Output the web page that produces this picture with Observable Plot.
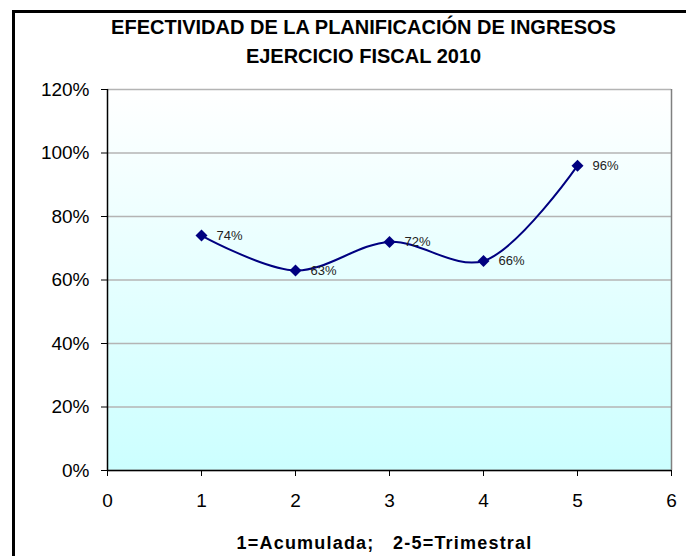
<!DOCTYPE html>
<html>
<head>
<meta charset="utf-8">
<script src="https://cdn.jsdelivr.net/npm/d3@7"></script>
<script src="https://cdn.jsdelivr.net/npm/@observablehq/plot@0.6"></script>
<style>
  html, body { margin: 0; padding: 0; background: #fff; overflow: hidden; }
  #wrap { position: relative; width: 686px; height: 556px; overflow: hidden; font-family: "Liberation Sans", Arial, sans-serif; }
  #border { position: absolute; left: 12px; top: 10px; width: 720px; height: 600px; border: 3px solid #000; box-sizing: border-box; }
  #chart { position: absolute; left: 0; top: 0; }
</style>
</head>
<body>
<div id="wrap"><div id="border"></div><div id="chart"></div></div>
<script>
const titleLines = ["EFECTIVIDAD DE LA PLANIFICACIÓN DE INGRESOS", "EJERCICIO FISCAL 2010"];
const xLabel = "1=Acumulada;   2-5=Trimestral";
const periods = [1, 2, 3, 4, 5];
const efectividad = [0.74, 0.63, 0.72, 0.66, 0.96];
const labels = ["74%", "63%", "72%", "66%", "96%"];
const xTicks = [0, 1, 2, 3, 4, 5, 6];
const yTicks = [0, 0.2, 0.4, 0.6, 0.8, 1.0, 1.2];

const data = periods.map((p, i) => ({x: p, y: efectividad[i], label: labels[i]}));
const font = "Liberation Sans, Arial, sans-serif";

const plot = Plot.plot({
  width: 686,
  height: 556,
  marginLeft: 107,
  marginRight: 15,
  marginTop: 89,
  marginBottom: 86,
  style: {fontFamily: font, background: "transparent", overflow: "visible"},
  x: {domain: [0, 6], ticks: xTicks},
  y: {domain: [0, 1.2], ticks: yTicks},
  marks: [
    Plot.frame({fill: "url(#bggrad)", stroke: "none"}),
    Plot.gridY(yTicks, {stroke: "#b4b4b4", strokeOpacity: 1, strokeWidth: 1.5}),
    Plot.ruleX([6], {stroke: "#808080", strokeWidth: 1.5}),
    Plot.ruleX([0], {stroke: "#000", strokeWidth: 1.5}),
    Plot.ruleY([0], {stroke: "#000", strokeWidth: 1.5}),
    Plot.axisY({ticks: yTicks, tickFormat: d => Math.round(d * 100) + "%", tickSize: 6, tickPadding: 12, fontSize: 19, stroke: "#000", fill: "#000", label: null}),
    Plot.axisX({ticks: xTicks, tickFormat: d => String(d), tickSize: 6, tickPadding: 17, fontSize: 19, stroke: "#000", fill: "#000", label: null}),
    Plot.line(data, {x: "x", y: "y", curve: "catmull-rom", stroke: "#000080", strokeWidth: 2}),
    Plot.dot(data, {x: "x", y: "y", symbol: "diamond2", r: 5.4, fill: "#000080", stroke: "none"}),
    Plot.text(data, {x: "x", y: "y", text: "label", dx: 15, textAnchor: "start", fontSize: 13, fill: "#222"}),
    Plot.text([titleLines[0]], {frameAnchor: "top", dx: 363 - (107 + 564 / 2), dy: -56, text: d => d, fontSize: 20, fontWeight: "bold", fill: "#000", lineAnchor: "bottom"}),
    Plot.text([titleLines[1]], {frameAnchor: "top", dx: 363 - (107 + 564 / 2), dy: -27, text: d => d, fontSize: 20, fontWeight: "bold", fill: "#000", lineAnchor: "bottom"}),
    Plot.text([xLabel], {frameAnchor: "bottom", dx: 384 - (107 + 564 / 2), dy: 78, text: d => d, fontSize: 18, fontWeight: "bold", fill: "#000", lineAnchor: "bottom", letterSpacing: "1.2px"})
  ]
});

const svg = d3.select(plot);
const defs = svg.insert("defs", ":first-child");
const g = defs.append("linearGradient").attr("id", "bggrad").attr("x1", 0).attr("y1", 0).attr("x2", 0).attr("y2", 1);
g.append("stop").attr("offset", "0%").attr("stop-color", "#ffffff");
g.append("stop").attr("offset", "100%").attr("stop-color", "#ccffff");
svg.selectAll("text").filter(function() { return this.textContent === xLabel; }).style("letter-spacing", "1.2px");

document.getElementById("chart").appendChild(plot);
</script>
</body>
</html>
